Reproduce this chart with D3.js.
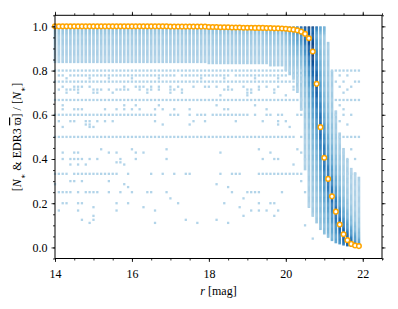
<!DOCTYPE html>
<html>
<head>
<meta charset="utf-8">
<script src="https://cdn.jsdelivr.net/npm/d3@7"></script>
<style>
body { margin: 0; background: #fff; }
text { font-family: "Liberation Serif", "DejaVu Serif", serif; }
</style>
</head>
<body>
<svg id="chart" width="398" height="309"></svg>
<script>
// magnitude bins (0.1 mag)
var rBins = [14.0,14.1,14.2,14.3,14.4,14.5,14.6,14.7,14.8,14.9,
             15.0,15.1,15.2,15.3,15.4,15.5,15.6,15.7,15.8,15.9,
             16.0,16.1,16.2,16.3,16.4,16.5,16.6,16.7,16.8,16.9,
             17.0,17.1,17.2,17.3,17.4,17.5,17.6,17.7,17.8,17.9,
             18.0,18.1,18.2,18.3,18.4,18.5,18.6,18.7,18.8,18.9,
             19.0,19.1,19.2,19.3,19.4,19.5,19.6,19.7,19.8,19.9,
             20.0,20.1,20.2,20.3,20.4,20.5,20.6,20.7,20.8,20.9,
             21.0,21.1,21.2,21.3,21.4,21.5,21.6,21.7,21.8,21.9];

// orange markers: fraction per bin
var fracMedian = [1,1,1,1,1,1,1,1,1,1,
                  1,1,1,1,1,1,1,1,1,1,
                  1,1,1,1,1,1,1,1,1,1,
                  0.999,0.999,0.999,0.999,0.999,0.999,0.999,0.999,0.999,0.999,
                  0.997,0.997,0.997,0.996,0.996,0.996,0.995,0.995,0.995,0.994,
                  0.994,0.994,0.993,0.993,0.993,0.992,0.992,0.991,0.991,0.990,
                  0.989,0.987,0.985,0.982,0.976,0.966,0.946,0.886,0.740,0.544,
                  0.406,0.310,0.231,0.162,0.104,0.060,0.033,0.016,0.009,0.006];

// extent of the filled part of each column
var bandTop = [1,1,1,1,1,1,1,1,1,1, 1,1,1,1,1,1,1,1,1,1,
               1,1,1,1,1,1,1,1,1,1, 1,1,1,1,1,1,1,1,1,1,
               1,1,1,1,1,1,1,1,1,1, 1,1,1,1,1,1,1,1,1,1,
               1,1,1,1,1,1,1,1,1,1,
               1,0.93,0.80,0.62,0.52,0.45,0.40,0.36,0.34,0.32];
var bandBot = [0.835,0.835,0.835,0.835,0.835,0.835,0.835,0.835,0.835,0.835,
               0.835,0.835,0.835,0.835,0.835,0.835,0.835,0.835,0.835,0.835,
               0.835,0.835,0.835,0.835,0.835,0.835,0.835,0.835,0.835,0.835,
               0.835,0.835,0.835,0.835,0.835,0.835,0.835,0.835,0.835,0.835,
               0.83,0.83,0.83,0.83,0.83,0.83,0.83,0.83,0.83,0.83,
               0.83,0.83,0.83,0.83,0.83,0.83,0.82,0.82,0.82,0.82,
               0.80,0.78,0.76,0.70,0.62,0.35,0.18,0.14,0.11,0.08,
               0.06,0.045,0.03,0.02,0.015,0.01,0.006,0.004,0.002,0.0];

// darkness of the column core and its spread in fraction units
var coreDepth = [0.12,0.12,0.12,0.12,0.12,0.12,0.12,0.12,0.12,0.12,
                 0.12,0.12,0.12,0.12,0.12,0.12,0.12,0.12,0.12,0.12,
                 0.12,0.12,0.12,0.12,0.12,0.12,0.12,0.12,0.12,0.12,
                 0.12,0.12,0.12,0.12,0.12,0.12,0.12,0.12,0.12,0.12,
                 0.15,0.15,0.15,0.15,0.15,0.15,0.15,0.15,0.15,0.15,
                 0.15,0.15,0.15,0.15,0.15,0.2,0.2,0.2,0.2,0.2,
                 0.25,0.3,0.38,0.48,0.6,0.75,0.92,1.0,0.85,0.75,
                 0.7,0.7,0.72,0.75,0.82,0.88,0.9,0.85,0.7,0.5];
var coreSpread = [0.06,0.06,0.06,0.06,0.06,0.06,0.06,0.06,0.06,0.06,
                  0.06,0.06,0.06,0.06,0.06,0.06,0.06,0.06,0.06,0.06,
                  0.06,0.06,0.06,0.06,0.06,0.06,0.06,0.06,0.06,0.06,
                  0.06,0.06,0.06,0.06,0.06,0.06,0.06,0.06,0.06,0.06,
                  0.06,0.06,0.06,0.06,0.06,0.06,0.06,0.06,0.06,0.06,
                  0.06,0.06,0.06,0.06,0.06,0.06,0.06,0.06,0.06,0.06,
                  0.06,0.1,0.1,0.1,0.1,0.15,0.2,0.25,0.25,0.25,
                  0.22,0.2,0.18,0.15,0.12,0.1,0.08,0.07,0.06,0.06];
// extra pile-up at exactly 1.0 for the bins near the limit
var topShade = [0.12,0.12,0.12,0.12,0.12,0.12,0.12,0.12,0.12,0.12,
                0.12,0.12,0.12,0.12,0.12,0.12,0.12,0.12,0.12,0.12,
                0.12,0.12,0.12,0.12,0.12,0.12,0.12,0.12,0.12,0.12,
                0.12,0.12,0.12,0.12,0.12,0.12,0.12,0.12,0.12,0.12,
                0.15,0.15,0.15,0.15,0.15,0.15,0.15,0.15,0.15,0.15,
                0.15,0.15,0.15,0.15,0.15,0.2,0.2,0.2,0.22,0.25,
                0.3,0.4,0.5,0.6,0.75,0.9,1.0,0.95,0.7,0.4,
                0.3,0,0,0,0,0,0,0,0,0];

// isolated pixels: fraction level and the bin indices where they show up
var dotRows = [
  [0.800, "0-64,72-79"],
  [0.778, "1-2,4-31,33-45,47-60,62-64,74,76"],
  [0.765, "3,9,14,20,27,38,44,52,58"],
  [0.750, "0-64,73,75,78,79"],
  [0.727, "2,5-7,9,18,21-23,25,27,30,32,36,39,40,42,45,49,53,55,58,62,74,77"],
  [0.714, "1,3-6,10-12,14,16-19,22,24,25,27,30,31,33,44-46,50,51,53,57,62,63,76"],
  [0.700, "3,6,10,11,15,24,30,33,50,51,57,75"],
  [0.688, "43,50,60"],
  [0.667, "0-64,73-79"],
  [0.643, "2,18,21,27,42,52,74"],
  [0.625, "2,5-7,13,16,18,20,22,26,28,31,35,44,45,55,64,75"],
  [0.600, "0-26,30-32,35,37-39,41-50,52,55,56,58,59,63,64,73,75,77"],
  [0.571, "1,4,5,8,9,11,13,15,26,36,39,47,54,58,60,74"],
  [0.556, "8,9,28,35,58,76"],
  [0.545, "2,9,10,61"],
  [0.500, "0-62,64,74-79"],
  [0.444, "12,20,29,53,63,77"],
  [0.429, "2,5,6,14,16,21,23,43,56,64,75"],
  [0.400, "2,4-7,9,11,17,21,29,54,57,58,65,76,78"],
  [0.385, "16,17"],
  [0.375, "4,6,8,18,62"],
  [0.333, "0-3,5-16,19,25,28,31,34,35,43,46-48,53-64,75-78"],
  [0.300, "4,5,7,14,64"],
  [0.286, "0,18,42"],
  [0.273, "19,45"],
  [0.250, "1-4,6,8-11,14,17,20,24,25,29,46,50-53,59,65"],
  [0.222, "30,49"],
  [0.200, "2,3,6,7,16,19,32,44,53,56,57"],
  [0.182, "10,23,48"],
  [0.167, "1,6,16,26,51,53,55,58"],
  [0.143, "10,49,57"],
  [0.125, "7,10,34,42"],
  [0.111, "9,26,37,45"],
  [0.100, "65"],
  [0.040, "67"]
];

var xTicks = [14, 16, 18, 20, 22];
var yTicks = [0.0, 0.2, 0.4, 0.6, 0.8, 1.0];

var svg = d3.select("#chart");
var mLeft = 55, mRight = 382, mTop = 15.3, mBottom = 258.5;

var x = d3.scaleLinear().domain([14, 22.5]).range([mLeft, mRight]);
var y = d3.scaleLinear().domain([-0.05, 1.05]).range([mBottom, mTop]);

function expand(s){
  var out = [];
  s.split(",").forEach(function(p){
    var ab = p.split("-");
    var a = +ab[0], b = ab.length > 1 ? +ab[1] : a;
    for (var k = a; k <= b; k++) out.push(k);
  });
  return out;
}

function shade(k, v){
  var t1 = coreDepth[k] * Math.exp(-Math.abs(v - fracMedian[k]) / coreSpread[k]);
  var t2 = topShade[k] * Math.exp(-(1 - v) / 0.04);
  var t = Math.max(t1, t2);
  return d3.interpolateBlues(0.32 + 0.68 * Math.min(1, t));
}

// column cells
var step = 0.005;
var cells = [];
rBins.forEach(function(r, k){
  for (var v = bandBot[k]; v < bandTop[k] - 1e-9; v += step) {
    var v2 = Math.min(v + step, bandTop[k]);
    cells.push({r: r, lo: v, hi: v2, c: shade(k, (v + v2) / 2)});
  }
});

var colW = 2.6;
svg.append("g").selectAll("rect").data(cells).enter().append("rect")
  .attr("x", function(d){ return x(d.r) - colW / 2; })
  .attr("y", function(d){ return y(d.hi); })
  .attr("width", colW)
  .attr("height", function(d){ return y(d.lo) - y(d.hi) + 0.3; })
  .attr("fill", function(d){ return d.c; });

// scattered pixels
var dots = [];
dotRows.forEach(function(row){
  expand(row[1]).forEach(function(k){
    if (k >= 0 && k < rBins.length) dots.push({r: rBins[k], f: row[0]});
  });
});
svg.append("g").selectAll("rect").data(dots).enter().append("rect")
  .attr("x", function(d){ return x(d.r) - 1.15; })
  .attr("y", function(d){ return y(d.f) - 1.15; })
  .attr("width", 2.3)
  .attr("height", 2.3)
  .attr("fill", "#b2d4e9");

// orange markers
svg.append("g").selectAll("circle").data(rBins).enter().append("circle")
  .attr("cx", function(d){ return x(d); })
  .attr("cy", function(d, i){ return y(fracMedian[i]); })
  .attr("r", 2.3)
  .attr("fill", "#fff")
  .attr("stroke", "#ffa500")
  .attr("stroke-width", 1.5);

// axes, ticks outward on all four sides
var xMinor = d3.range(14, 22.51, 0.5);
var yMinor = d3.range(-0.05, 1.051, 0.05);

function styleAxis(g){
  g.select(".domain").remove();
  g.selectAll("line").attr("stroke", "#000").attr("stroke-width", 0.8);
  g.selectAll("text").attr("fill", "#000").style("font-size", "12px");
}

svg.append("g").attr("transform", "translate(0," + mBottom + ")")
  .call(d3.axisBottom(x).tickValues(xMinor).tickSize(2).tickFormat("")).call(styleAxis);
svg.append("g").attr("transform", "translate(0," + mBottom + ")")
  .call(d3.axisBottom(x).tickValues(xTicks).tickSize(3.5).tickPadding(7).tickFormat(d3.format("d"))).call(styleAxis);
svg.append("g").attr("transform", "translate(0," + mTop + ")")
  .call(d3.axisTop(x).tickValues(xMinor).tickSize(2).tickFormat("")).call(styleAxis);
svg.append("g").attr("transform", "translate(0," + mTop + ")")
  .call(d3.axisTop(x).tickValues(xTicks).tickSize(3.5).tickFormat("")).call(styleAxis);

svg.append("g").attr("transform", "translate(" + mLeft + ",0)")
  .call(d3.axisLeft(y).tickValues(yMinor).tickSize(2).tickFormat("")).call(styleAxis);
svg.append("g").attr("transform", "translate(" + mLeft + ",0)")
  .call(d3.axisLeft(y).tickValues(yTicks).tickSize(3.5).tickPadding(4).tickFormat(d3.format(".1f"))).call(styleAxis);
svg.append("g").attr("transform", "translate(" + mRight + ",0)")
  .call(d3.axisRight(y).tickValues(yMinor).tickSize(2).tickFormat("")).call(styleAxis);
svg.append("g").attr("transform", "translate(" + mRight + ",0)")
  .call(d3.axisRight(y).tickValues(yTicks).tickSize(3.5).tickFormat("")).call(styleAxis);

svg.append("rect")
  .attr("x", mLeft).attr("y", mTop)
  .attr("width", mRight - mLeft).attr("height", mBottom - mTop)
  .attr("fill", "none").attr("stroke", "#000").attr("stroke-width", 1);

// axis labels
var xl = svg.append("text")
  .attr("x", (mLeft + mRight) / 2).attr("y", 295)
  .attr("text-anchor", "middle").style("font-size", "12px");
xl.append("tspan").style("font-style", "italic").text("r");
xl.append("tspan").text(" [mag]");

var yl = svg.append("text")
  .attr("transform", "translate(21," + ((mTop + mBottom) / 2) + ") rotate(-90)")
  .attr("text-anchor", "middle").style("font-size", "12px");
yl.append("tspan").text("[");
yl.append("tspan").style("font-style", "italic").text("N");
yl.append("tspan").attr("baseline-shift", "sub").style("font-size", "8px").text("\u2217");
yl.append("tspan").text(" & EDR3  ");
yl.append("tspan").style("text-decoration", "overline").text("\u03d6");
yl.append("tspan").text("] / [");
yl.append("tspan").style("font-style", "italic").text("N");
yl.append("tspan").attr("baseline-shift", "sub").style("font-size", "8px").text("\u2217");
yl.append("tspan").text("]");
</script>
</body>
</html>
